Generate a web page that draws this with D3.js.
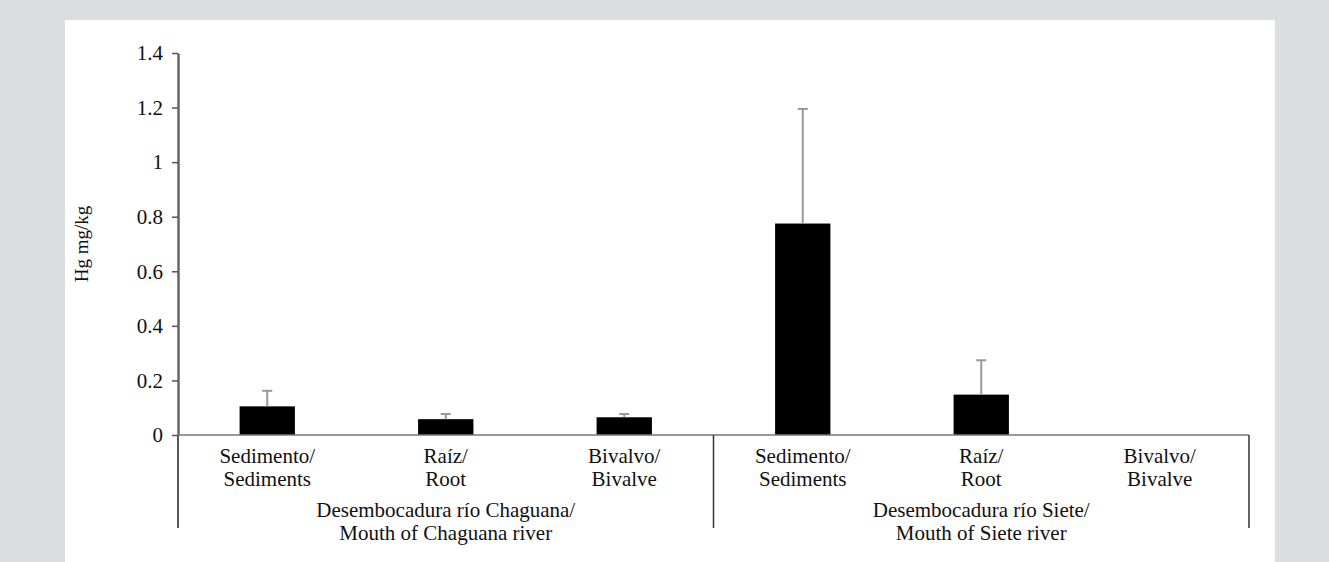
<!DOCTYPE html>
<html>
<head>
<meta charset="utf-8">
<script src="https://cdn.jsdelivr.net/npm/d3@7"></script>
<style>
  body { margin: 0; background: #dcdddf; }
  #chart { position: relative; }
  #chart text { font-family: "Liberation Serif", "Times New Roman", serif; }
</style>
</head>
<body>
<div id="chart"></div>
<script>
// Hg concentration (mg/kg) by sample type and site
const groups = [
    ["Desembocadura río Chaguana/", "Mouth of Chaguana river"],
    ["Desembocadura río Siete/", "Mouth of Siete river"]
];
const items = [
    ["Sedimento/", "Sediments"],
    ["Raíz/", "Root"],
    ["Bivalvo/", "Bivalve"]
];
const chaguanaValues = [0.105, 0.058, 0.065];
const chaguanaErrors = [0.057, 0.019, 0.012];
const sieteValues = [0.775, 0.148, null];
const sieteErrors = [0.42, 0.126, null];
const yTicks = [0, 0.2, 0.4, 0.6, 0.8, 1, 1.2, 1.4];

const width = 1329;
const height = 562;
const margin = { top: 53, right: 80, bottom: 127, left: 178 };

const svg = d3.select('#chart')
    .append('svg')
    .attr('width', width)
    .attr('height', height);

// white panel
svg.append('rect')
    .attr('x', 65).attr('y', 20)
    .attr('width', 1210).attr('height', height - 20)
    .attr('fill', '#fff');

const rows = [];
groups.forEach((g, gi) => {
    const vals = gi === 0 ? chaguanaValues : sieteValues;
    const errs = gi === 0 ? chaguanaErrors : sieteErrors;
    items.forEach((it, ii) => {
        rows.push({ key: gi + '-' + ii, group: gi, label: it, value: vals[ii], err: errs[ii] });
    });
});

const x0 = margin.left, x1 = width - margin.right;
const y0 = height - margin.bottom;

const gx = d3.scaleBand()
    .domain(groups.map((g, i) => i))
    .range([x0, x1]);

const x = d3.scaleBand()
    .domain(rows.map(d => d.key))
    .range([x0, x1])
    .paddingInner(0.69)
    .paddingOuter(0.345);

const y = d3.scaleLinear()
    .domain([0, 1.4])
    .range([y0, margin.top]);

// bars
svg.selectAll('.bar')
    .data(rows.filter(d => d.value != null))
    .enter()
    .append('rect')
    .attr('class', 'bar')
    .attr('x', d => x(d.key))
    .attr('width', x.bandwidth())
    .attr('y', d => y(d.value))
    .attr('height', d => y(0) - y(d.value))
    .attr('fill', '#000');

// error bars (upper only)
const eb = svg.selectAll('.err')
    .data(rows.filter(d => d.err != null))
    .enter()
    .append('g')
    .attr('class', 'err')
    .attr('stroke', '#999')
    .attr('stroke-width', 2);
eb.append('line')
    .attr('x1', d => x(d.key) + x.bandwidth() / 2)
    .attr('x2', d => x(d.key) + x.bandwidth() / 2)
    .attr('y1', d => y(d.value))
    .attr('y2', d => y(d.value + d.err));
eb.append('line')
    .attr('x1', d => x(d.key) + x.bandwidth() / 2 - 5)
    .attr('x2', d => x(d.key) + x.bandwidth() / 2 + 5)
    .attr('y1', d => y(d.value + d.err))
    .attr('y2', d => y(d.value + d.err));

// Y axis
const yAxis = svg.append('g')
    .attr('transform', `translate(${x0},0)`)
    .call(d3.axisLeft(y).tickValues(yTicks).tickFormat(d3.format('~g')).tickSize(6).tickSizeOuter(0));
yAxis.select('.domain').attr('stroke', '#666').attr('stroke-width', 2.5);
yAxis.selectAll('.tick line').attr('stroke', '#555').attr('stroke-width', 1.5);
yAxis.selectAll('.tick text')
    .attr('x', -15)
    .attr('fill', '#111')
    .attr('font-family', null)
    .attr('font-size', '21px');
yAxis.attr('font-family', null);

// extend y axis below the baseline
svg.append('line')
    .attr('x1', x0).attr('x2', x0)
    .attr('y1', y0).attr('y2', 528)
    .attr('stroke', '#555').attr('stroke-width', 2);

// X axis baseline
svg.append('line')
    .attr('x1', x0).attr('x2', x1)
    .attr('y1', y0).attr('y2', y0)
    .attr('stroke', '#777').attr('stroke-width', 1.5);

// group dividers
svg.selectAll('.divider')
    .data(groups.map((g, i) => i))
    .enter()
    .append('line')
    .attr('x1', d => gx(d) + gx.bandwidth())
    .attr('x2', d => gx(d) + gx.bandwidth())
    .attr('y1', y0).attr('y2', 528)
    .attr('stroke', '#333').attr('stroke-width', 1.5);

// category labels
const cat = svg.selectAll('.cat')
    .data(rows)
    .enter()
    .append('text')
    .attr('class', 'cat')
    .attr('text-anchor', 'middle')
    .attr('font-size', '21px')
    .attr('fill', '#111');
cat.append('tspan')
    .attr('x', d => x(d.key) + x.bandwidth() / 2)
    .attr('y', y0 + 28)
    .text(d => d.label[0]);
cat.append('tspan')
    .attr('x', d => x(d.key) + x.bandwidth() / 2)
    .attr('y', y0 + 51)
    .text(d => d.label[1]);

// group labels
const grp = svg.selectAll('.grp')
    .data(groups.map((g, i) => ({ i, label: g })))
    .enter()
    .append('text')
    .attr('class', 'grp')
    .attr('text-anchor', 'middle')
    .attr('font-size', '21px')
    .attr('fill', '#111');
grp.append('tspan')
    .attr('x', d => gx(d.i) + gx.bandwidth() / 2)
    .attr('y', y0 + 82)
    .text(d => d.label[0]);
grp.append('tspan')
    .attr('x', d => gx(d.i) + gx.bandwidth() / 2)
    .attr('y', y0 + 105)
    .text(d => d.label[1]);

// Y axis label
svg.append('text')
    .attr('text-anchor', 'middle')
    .attr('transform', `translate(88,${(y0 + margin.top) / 2}) rotate(-90)`)
    .attr('font-size', '19px')
    .attr('fill', '#111')
    .text('Hg mg/kg');
</script>
</body>
</html>
